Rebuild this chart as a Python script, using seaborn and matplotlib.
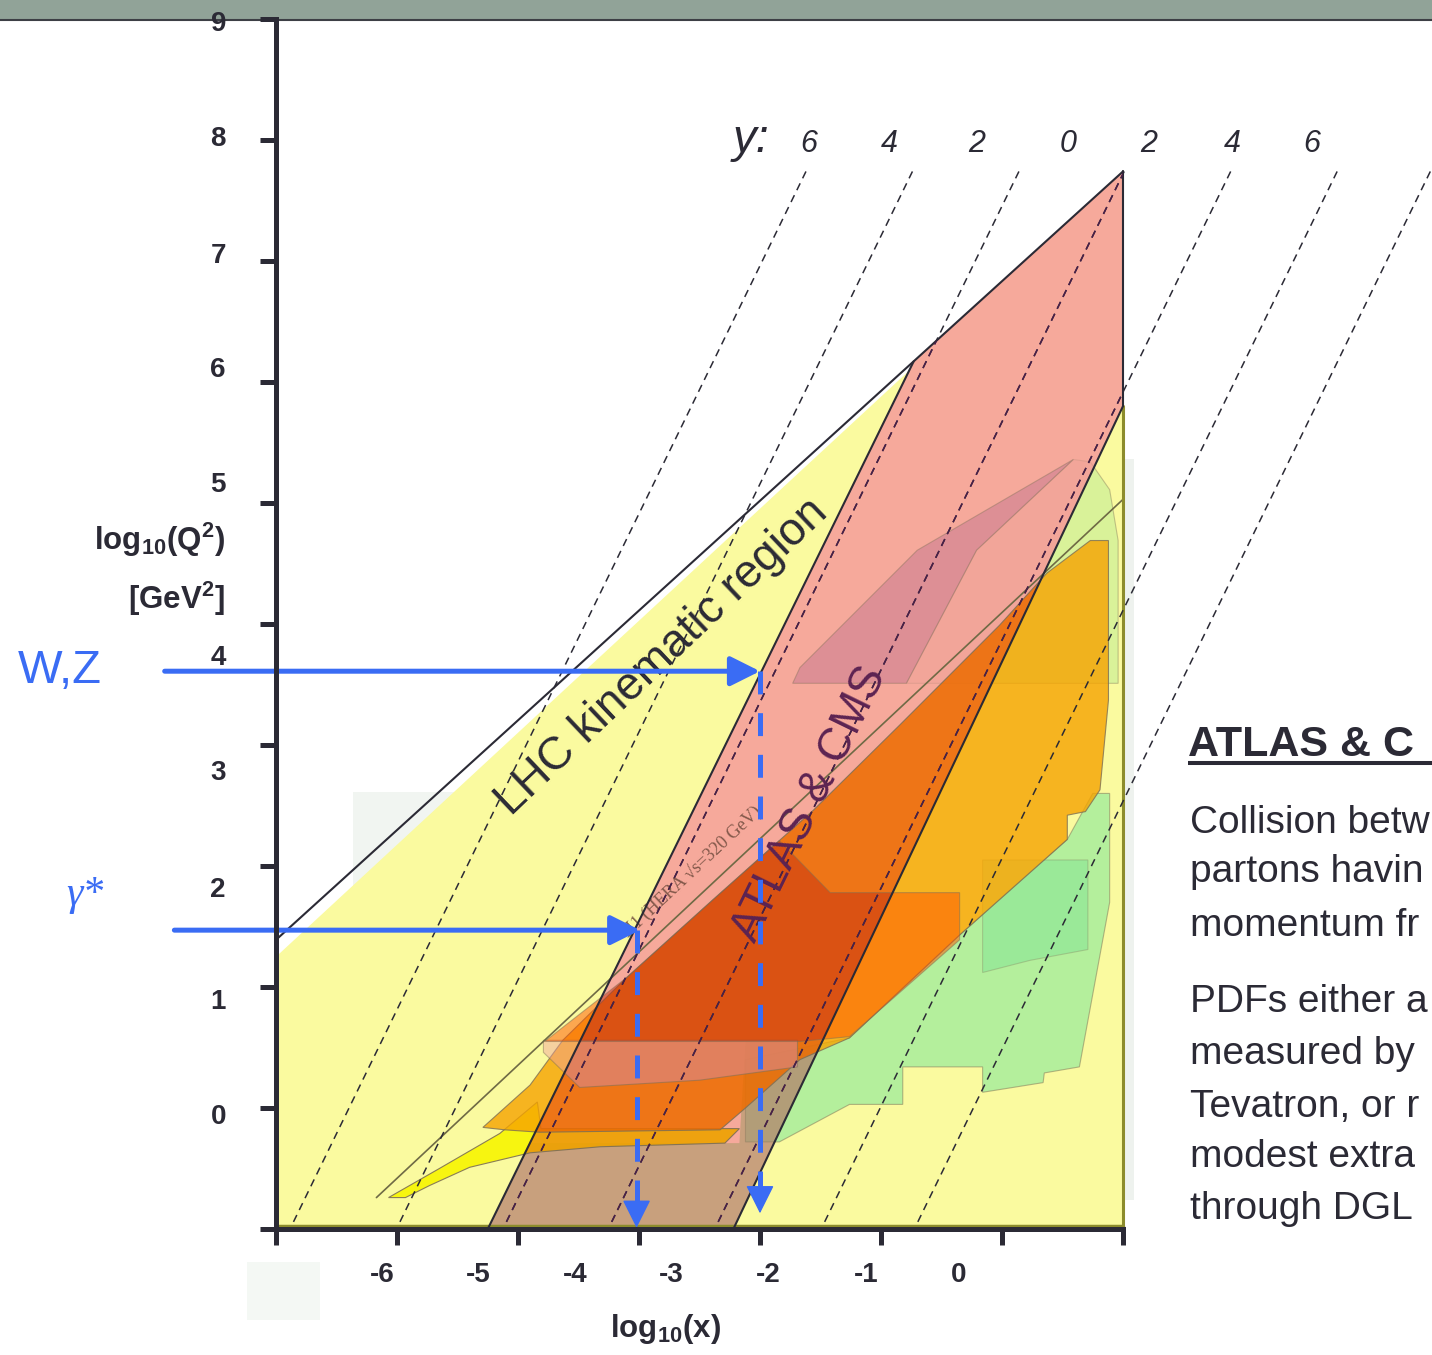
import numpy as np
import pandas as pd
import matplotlib
matplotlib.use("Agg")
import matplotlib.pyplot as plt
import seaborn as sns
from matplotlib.patches import Polygon, Rectangle
from matplotlib.path import Path
from matplotlib.colors import to_rgb

# ---------------- data (log10 x , log10 Q^2) ----------------
x_major_ticks = [-7, -6, -5, -4, -3, -2, -1, 0]
y_major_ticks = [-1, 0, 1, 2, 3, 4, 5, 6, 7, 8, 9]
x_tick_labels = ["-6", "-5", "-4", "-3", "-2", "-1", "0"]
x_tick_label_pos = [-6.12, -5.33, -4.53, -3.73, -2.93, -2.12, -1.36]
y_tick_labels = ["9", "8", "7", "6", "5", "4", "3", "2", "1", "0", "-1"]
y_tick_label_pos = [8.98, 8.03, 7.07, 6.12, 5.17, 3.74, 2.79, 1.83, 0.90, -0.05, -1.0]

# rapidity lines
rapidity_labels = ["6", "4", "2", "0", "2", "4", "6"]
rapidity_label_x = [-2.60, -1.93, -1.21, -0.45, 0.21, 0.90, 1.56]
rapidity_top_x = [-2.62, -1.74, -0.86, 0.01, 0.89, 1.77, 2.54]
rapidity_bottom_x = [-6.86, -5.98, -5.10, -4.23, -3.35, -2.47, -1.70]
rapidity_top_y = 7.74
rapidity_bottom_y = -0.95

# LHC kinematic region
lhc_x = [-7, 0, 0, -7]
lhc_y = [1.25, 7.73, -1, -1]
limit_x = [-7, 0]
limit_y = [1.39, 7.74]

# ATLAS & CMS band
band_x = [-5.25, -1.73, 0, 0, -3.22]
band_y = [-1, 6.17, 7.74, 5.80, -1]
band_low_x = [-5.25, -4.90, -3.17, -3.12, -2.48, -3.22]
band_low_y = [-1, -0.29, -0.29, 0.56, 0.56, -1]

# measured regions (HERA / fixed target / Tevatron)
hera_low_x = [-6.07, -5.65, -5.15, -4.84, -4.81, -3.17, -3.29, -4.32, -4.90, -5.40, -5.73, -5.93]
hera_low_y = [-0.74, -0.50, -0.21, 0.05, -0.17, -0.17, -0.29, -0.32, -0.37, -0.49, -0.64, -0.74]
hera_x = [-5.29, -4.90, -4.63, -4.10, -3.39, -2.56, -1.84, -1.02, -0.63, -0.27, -0.12, -0.12,
          -0.19, -0.31, -0.46, -0.46, -1.35, -2.26, -2.67, -3.12, -3.33, -4.82, -5.11]
hera_y = [-0.16, 0.19, 0.56, 1.08, 1.72, 2.46, 3.17, 3.99, 4.42, 4.69, 4.69, 3.37,
          2.63, 2.45, 2.42, 2.22, 1.43, 0.58, 0.40, 0.00, -0.18, -0.20, -0.18]
h1_x = [-4.78, -4.10, -3.39, -2.84, -2.42, -1.35, -1.35, -2.26, -2.67]
h1_y = [0.55, 1.08, 1.72, 2.21, 1.78, 1.78, 1.39, 0.59, 0.55]
svx_x = [-4.79, -2.69, -2.69, -3.50, -4.49, -4.79]
svx_y = [0.56, 0.56, 0.34, 0.23, 0.17, 0.46]
tev_x = [-2.73, -2.67, -1.70, -0.41, -1.21, -1.79]
tev_y = [3.51, 3.64, 4.61, 5.36, 4.61, 3.51]
tev2_x = [-1.79, -1.21, -0.41, -0.27, -0.11, -0.04, -0.04]
tev2_y = [3.51, 4.61, 5.36, 5.34, 5.11, 4.69, 3.51]
fixed_x = [-3.12, -2.84, -2.26, -1.82, -1.82, -1.16, -1.16, -0.66, -0.65, -0.36, -0.11, -0.11,
           -0.25, -0.46, -1.35, -2.26, -3.12]
fixed_y = [-0.28, -0.28, 0.03, 0.03, 0.34, 0.34, 0.13, 0.21, 0.29, 0.34, 1.70, 2.60,
           2.60, 2.22, 1.43, 0.58, 0.40]
fixed2_x = [-1.16, -0.29, -0.29, -0.77, -1.16]
fixed2_y = [2.05, 2.05, 1.31, 1.22, 1.12]
hera_limit_x = [-6.17, 0.0]
hera_limit_y = [-0.74, 5.03]

# arrows
wz_y, wz_x_start, wz_x, wz_y_end = 3.61, -7.92, -3.00, -0.87
gam_y, gam_x_start, gam_x, gam_y_end = 1.47, -7.84, -4.02, -0.99

# right-hand text (as visible, cut by the slide edge)
side_title = "ATLAS & C"
side_lines = ["Collision betw", "partons havin", "momentum fr",
              "PDFs either a", "measured by", "Tevatron, or r",
              "modest extra", "through DGL"]
side_line_y = [2.27, 1.87, 1.42, 0.79, 0.36, -0.07, -0.49, -0.92]

# ---------------- style ----------------
INK = "#2b2a35"
BLUE = "#3a6cf4"
SALMON = "#f6a99b"
YELLOW = "#fafa9f"

sns.set_theme(style="white")
plt.rcParams.update({
    "font.family": ["Liberation Sans", "DejaVu Sans"],
    "mathtext.fontset": "custom",
    "mathtext.rm": "Liberation Sans",
    "mathtext.bf": "Liberation Sans:bold",
    "mathtext.it": "Liberation Sans:italic",
    "lines.scale_dashes": False,
})

fig = plt.figure(figsize=(14.32, 13.55), dpi=100)
ax = fig.add_axes([0, 0, 1, 1])
ax.set_xlim(-9.281, 2.554)
ax.set_ylim(-2.041, 9.157)
ax.set_facecolor("white")


def poly(xs, ys, **kw):
    p = Polygon(np.column_stack([xs, ys]), closed=True, **kw)
    ax.add_patch(p)
    return p


def mult(c1, c2):
    return tuple(np.array(to_rgb(c1)) * np.array(to_rgb(c2)))


# header strip
ax.add_patch(Rectangle((0, 0.98524), 1, 0.0148, transform=ax.transAxes,
                       facecolor="#91a398", edgecolor="none", zorder=0.3, clip_on=False))
ax.plot([0, 1], [0.9849, 0.9849], transform=ax.transAxes, color="#3d3f45", lw=1.5, zorder=0.35)

# faint inset backgrounds
ax.add_patch(Rectangle((-6.36, -0.76), 6.38, 3.37, facecolor="#f1f5f1", edgecolor="none", zorder=0.5))
ax.add_patch(Rectangle((0.0, -0.76), 0.09, 6.12, facecolor="#eef2ee", edgecolor="none", zorder=0.5))
ax.add_patch(Rectangle((-7.24, -1.75), 0.60, 0.48, facecolor="#f4f8f4", edgecolor="none", zorder=0.5))

# LHC region
poly(lhc_x, lhc_y, facecolor=YELLOW, edgecolor="none", zorder=1)

# ATLAS & CMS band
band_patch = poly(band_x, band_y, facecolor=SALMON, edgecolor="none", zorder=2)
poly(band_low_x, band_low_y, facecolor="#c8a07d", edgecolor="none", zorder=2.1)

# clip path = everything outside the band
bv = np.column_stack([band_x, band_y])
area = 0.5 * np.sum(bv[:, 0] * np.roll(bv[:, 1], -1) - np.roll(bv[:, 0], -1) * bv[:, 1])
if area > 0:
    bv = bv[::-1]
big = np.array([[-30, -30], [30, -30], [30, 30], [-30, 30], [-30, -30]])
verts = np.vstack([big, bv, bv[:1]])
codes = ([Path.MOVETO] + [Path.LINETO] * 3 + [Path.CLOSEPOLY]
         + [Path.MOVETO] + [Path.LINETO] * (len(bv) - 1) + [Path.CLOSEPOLY])
outside_path = Path(verts, codes)


def region(xs, ys, color, alpha, color_in=None, alpha_in=None, z=3.0, edge="#7d6f55", lw=0.8):
    c_in = color_in if color_in is not None else mult(color, SALMON)
    a_in = alpha_in if alpha_in is not None else alpha
    p1 = poly(xs, ys, facecolor=color, alpha=alpha, edgecolor=edge, lw=lw, zorder=z)
    p1.set_clip_path(outside_path, ax.transData)
    p2 = poly(xs, ys, facecolor=c_in, alpha=a_in, edgecolor=edge, lw=lw, zorder=z)
    p2.set_clip_path(band_patch)


region(tev2_x, tev2_y, "#a8e890", 0.40, color_in="#e09090", alpha_in=0.15, z=2.9)
region(tev_x, tev_y, "#c07090", 0.35, color_in="#b86a8e", alpha_in=0.40, z=2.95)
region(fixed_x, fixed_y, "#6fe59a", 0.50, color_in="#8a9a70", alpha_in=0.35, z=3.0)
region(fixed2_x, fixed2_y, "#5fdc8f", 0.30, color_in="#7a9a70", alpha_in=0.2, z=3.05)
region(hera_low_x, hera_low_y, "#f7f500", 0.90, z=3.1)
region(hera_x, hera_y, "#f6a300", 0.80, alpha_in=0.85, z=3.2)
region(svx_x, svx_y, "#f0a0a0", 0.45, color_in="#d88a98", alpha_in=0.55, z=3.3)
region(h1_x, h1_y, "#ff5500", 0.50, color_in="#c83010", alpha_in=0.5, z=3.35)

ax.plot(hera_limit_x, hera_limit_y, color="#6f6a45", lw=1.2, zorder=3.6)
ax.text(-3.56, 1.95, "H1 (HERA \u221as=320 GeV)", rotation=43, rotation_mode="anchor",
        ha="center", va="center", fontsize=13, family=["Liberation Serif", "DejaVu Serif"],
        color="#6e4a3c", alpha=0.85, zorder=3.7)

# region borders
ax.plot([0, 0], [-1, 5.80], color="#8c8c2c", lw=2.2, zorder=3.9)
ax.plot([-7, 0], [-0.975, -0.975], color="#8c8c2c", lw=2.5, zorder=3.9)
ax.plot([band_x[0], band_x[1]], [band_y[0], band_y[1]], color=INK, lw=1.5, zorder=4)
ax.plot([band_x[4], band_x[3]], [band_y[4], band_y[3]], color=INK, lw=1.5, zorder=4)
ax.plot([0, 0], [5.80, 7.74], color=INK, lw=1.5, zorder=4)
sns.lineplot(x=limit_x, y=limit_y, color=INK, lw=1.5, zorder=4, ax=ax, sort=False, estimator=None)

# rapidity lines
rap_df = pd.DataFrame({
    "x": np.ravel(np.column_stack([rapidity_top_x, rapidity_bottom_x])),
    "y": np.tile([rapidity_top_y, rapidity_bottom_y], len(rapidity_top_x)),
    "line": np.repeat(np.arange(len(rapidity_top_x)), 2),
})
sns.lineplot(data=rap_df, x="x", y="y", units="line", estimator=None, sort=False,
             color=INK, lw=1.1, dashes=False, linestyle=(0, (5.5, 4)), zorder=4.5, ax=ax)
for xt, xb in zip(rapidity_top_x, rapidity_bottom_x):
    ln, = ax.plot([xt, xb], [rapidity_top_y, rapidity_bottom_y], color="#4a1f48", lw=1.1,
                  linestyle=(0, (5.5, 4)), zorder=4.6)
    ln.set_clip_path(band_patch)

ax.text(-3.07, 7.90, "y:", style="italic", fontsize=34, ha="center", va="baseline", color=INK, zorder=6)
for lab, lx in zip(rapidity_labels, rapidity_label_x):
    ax.text(lx, 7.90, lab, style="italic", fontsize=22, ha="center", va="baseline", color=INK, zorder=6)

# big labels in the plot
ax.text(-3.81, 3.73, "LHC kinematic region", rotation=43.5, rotation_mode="anchor",
        ha="center", va="center", fontsize=33, color=INK, zorder=6)
ax.text(-2.59, 2.51, "ATLAS & CMS", rotation=64, rotation_mode="anchor",
        ha="center", va="center", fontsize=33, color="#5c2352", zorder=6)

# arrows
def h_arrow(x0, x1, y):
    ax.annotate("", xy=(x1, y), xytext=(x0, y), zorder=7, annotation_clip=False,
                arrowprops=dict(arrowstyle="-|>,head_length=0.9,head_width=0.45", color=BLUE,
                                lw=3.6, mutation_scale=20, shrinkA=0, shrinkB=0))


def v_arrow(x, y0, y1):
    ax.plot([x, x], [y0, y1 + 0.2], color=BLUE, lw=3.6, dashes=(16.5, 13.5), zorder=7,
            solid_capstyle="butt", dash_capstyle="butt")
    ax.annotate("", xy=(x, y1), xytext=(x, y1 + 0.21), zorder=7,
                arrowprops=dict(arrowstyle="-|>,head_length=0.9,head_width=0.45", color=BLUE,
                                lw=1, mutation_scale=20, shrinkA=0, shrinkB=0))


h_arrow(wz_x_start, wz_x, wz_y)
v_arrow(wz_x, wz_y, wz_y_end)
h_arrow(gam_x_start, gam_x + 0.03, gam_y)
v_arrow(gam_x, gam_y, gam_y_end)
ax.text(-9.13, 3.51, "W,Z", fontsize=34, color=BLUE, ha="left", va="baseline", zorder=7)
ax.text(-8.73, 1.68, "\u03b3*", fontsize=30, color=BLUE, ha="left", va="baseline",
        family=["Liberation Serif", "DejaVu Serif"], style="italic", zorder=7)

# axes / ticks
for s in ["top", "right"]:
    ax.spines[s].set_visible(False)
ax.spines["left"].set_position(("data", -7))
ax.spines["left"].set_bounds(-1, 9)
ax.spines["bottom"].set_position(("data", -1))
ax.spines["bottom"].set_bounds(-7, 0)
for s in ["left", "bottom"]:
    ax.spines[s].set_visible(True)
    ax.spines[s].set_linewidth(3.6)
    ax.spines[s].set_color(INK)
    ax.spines[s].set_zorder(8)

ax.set_xlabel("")
ax.set_ylabel("")
ax.set_xticks(x_major_ticks)
ax.set_xticklabels([])
ax.set_yticks(y_major_ticks)
ax.set_yticklabels([])
ax.set_xticks(x_tick_label_pos, minor=True)
ax.set_xticklabels(x_tick_labels, minor=True)
ax.set_yticks(y_tick_label_pos, minor=True)
ax.set_yticklabels(y_tick_labels, minor=True)
ax.tick_params(bottom=True, left=True, which="both")
ax.tick_params(axis="both", which="major", direction="out", length=11.5, width=3.6, color=INK)
ax.tick_params(axis="both", which="minor", length=0, width=0, labelsize=20, labelcolor=INK)
ax.tick_params(axis="x", which="minor", pad=24)
ax.tick_params(axis="y", which="minor", pad=36)
for lbl in ax.get_xticklabels(minor=True) + ax.get_yticklabels(minor=True):
    lbl.set_fontweight("bold")
ax.grid(False)

ax.text(-3.78, -1.89, r"$\mathbf{log_{10}(x)}$", fontsize=22.5, color=INK, ha="center", va="baseline")
ax.text(-7.42, 4.61, r"$\mathbf{log_{10}(Q^{2})}$", fontsize=22.5, color=INK, ha="right", va="baseline")
ax.text(-7.42, 4.12, r"$\mathbf{[GeV^{2}]}$", fontsize=22.5, color=INK, ha="right", va="baseline")

# right-hand text
ax.text(0.537, 2.91, side_title, fontsize=31, fontweight="bold", color=INK, ha="left", va="baseline")
ax.plot([0.537, 2.7], [2.851, 2.851], color=INK, lw=2.9, solid_capstyle="butt", zorder=6)
for txt, ty in zip(side_lines, side_line_y):
    ax.text(0.55, ty, txt, fontsize=28, color=INK, ha="left", va="baseline")

fig.savefig("out.png", dpi=100)
